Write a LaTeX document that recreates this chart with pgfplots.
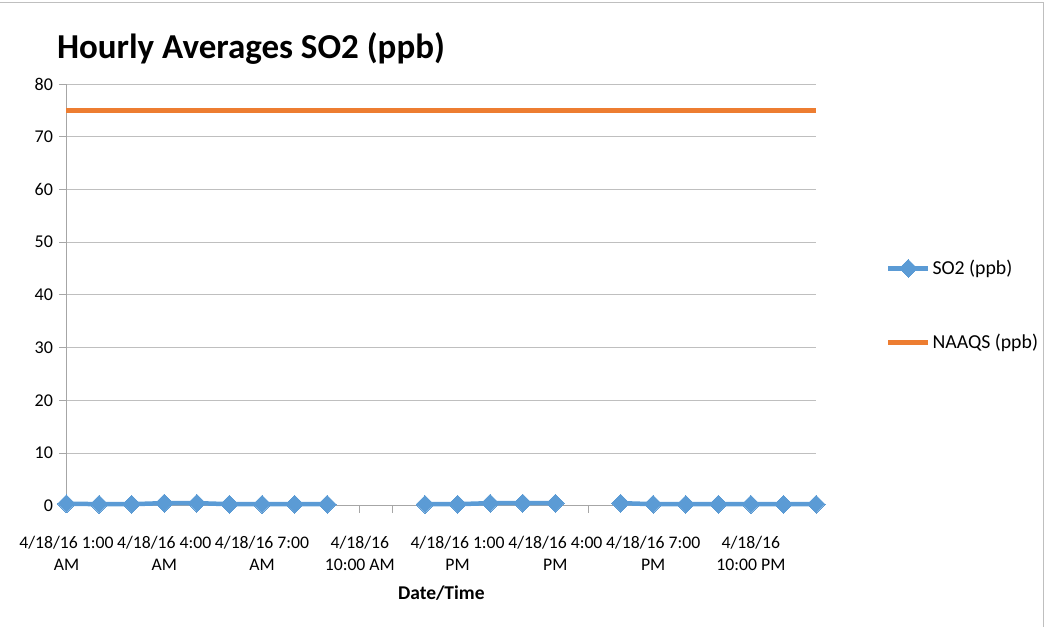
\documentclass[border=0pt]{standalone}
\usepackage{pgfplots}
\pgfplotsset{compat=1.18}
\usepackage{fontspec}
\setmainfont{Carlito}
\definecolor{soblue}{HTML}{5B9BD5}
\definecolor{naorange}{HTML}{ED7D31}
\definecolor{gridgray}{HTML}{BFBFBF}
\definecolor{axgray}{HTML}{A6A6A6}
\begin{document}
\begin{tikzpicture}
\begin{axis}[
  at={(0,0)}, anchor=south west,
  scale only axis, width=750pt, height=422pt,
  xmin=0, xmax=23, ymin=0, ymax=80,
  ytick={0,10,...,80},
  ymajorgrids, major grid style={gridgray, line width=0.9pt},
  axis line style={axgray, line width=0.9pt},
  axis x line*=bottom, axis y line*=left,
  xtick={0,3,...,21},
  minor xtick={0,...,23},
  xticklabels={{4/18/16 1:00\\AM},{4/18/16 4:00\\AM},{4/18/16 7:00\\AM},{4/18/16\\10:00 AM},{4/18/16 1:00\\PM},{4/18/16 4:00\\PM},{4/18/16 7:00\\PM},{4/18/16\\10:00 PM}},
  x tick label style={align=center, font=\fontsize{17.7}{22}\selectfont, yshift=-20pt},
  y tick label style={font=\fontsize{18}{20}\selectfont, xshift=-3pt},
  /pgf/number format/assume math mode=true,
  tick style={axgray, line width=0.9pt},
  major tick length=7pt, minor tick length=7pt,
  xtick pos=bottom, ytick pos=left,
  tick align=outside,
  xlabel={\textbf{Date/Time}},
  xlabel style={font=\fontsize{19.5}{22}\selectfont, at={(axis description cs:0.5,-0.206)}, anchor=center},
  title={\textbf{Hourly Averages SO2 (ppb)}},
  title style={font=\fontsize{35}{40}\selectfont, anchor=west, at={(axis description cs:-0.0173,1.07)}},
  unbounded coords=jump,
  clip=false,
  legend style={at={(axis description cs:1.093,0.587)}, anchor=north west, draw=none, fill=none,
    font=\fontsize{19.8}{22}\selectfont, row sep=54pt, inner sep=0pt,
    nodes={inner sep=2pt}},
  legend cell align=left,
  legend image code/.code={\draw[mark repeat=2,mark phase=2,#1] plot coordinates {(0pt,0pt) (20pt,0pt) (40pt,0pt)};},
]
\addplot[soblue, line width=4.5pt, mark=square*, mark size=6.3pt, mark options={solid, rotate=45, line width=0pt}] coordinates {
(0,0.4) (1,0.3) (2,0.3) (3,0.5) (4,0.5) (5,0.3) (6,0.3) (7,0.3) (8,0.3)
(9,nan) (10,nan)
(11,0.3) (12,0.3) (13,0.5) (14,0.5) (15,0.5)
(16,nan)
(17,0.5) (18,0.3) (19,0.3) (20,0.3) (21,0.3) (22,0.3) (23,0.3)
};
\addlegendentry{SO2 (ppb)}
\addplot[naorange, line width=4.5pt] coordinates {
(0,75) (1,75) (2,75) (3,75) (4,75) (5,75) (6,75) (7,75) (8,75) (9,75) (10,75) (11,75)
(12,75) (13,75) (14,75) (15,75) (16,75) (17,75) (18,75) (19,75) (20,75) (21,75) (22,75) (23,75)
};
\addlegendentry{NAAQS (ppb)}
\end{axis}
\draw[gridgray, line width=1pt] (-66pt,503pt) -- (977pt,503pt) -- (977pt,-121pt);
\path[use as bounding box] (-66pt,-121pt) rectangle (983pt,506pt);
\end{tikzpicture}
\end{document}
